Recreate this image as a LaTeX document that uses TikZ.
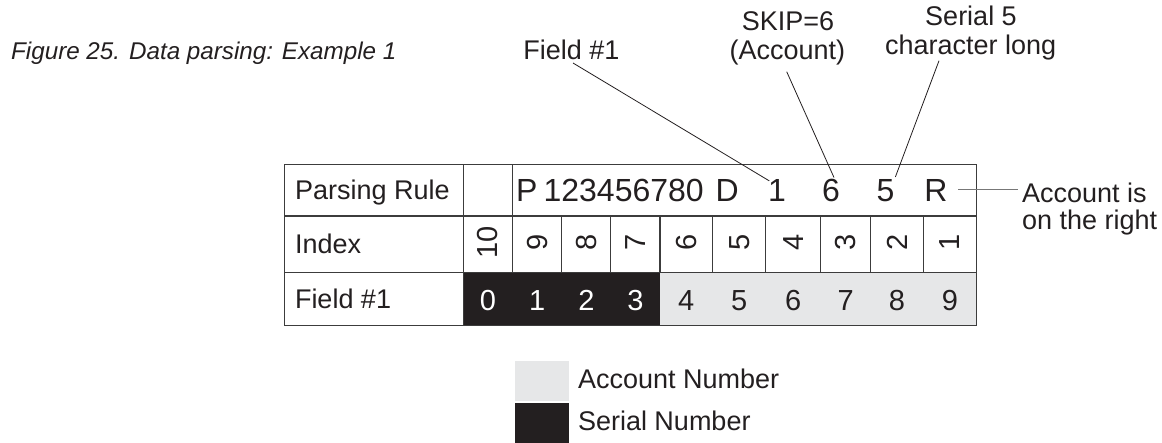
\documentclass[tikz,border=0pt]{standalone}
\usepackage{fontspec}
\setmainfont{Liberation Sans}
\usetikzlibrary{calc}
\definecolor{ink}{HTML}{231F20}
\definecolor{lgray}{HTML}{E6E7E8}
\definecolor{rulec}{HTML}{3C3C3C}
\definecolor{leadgray}{HTML}{777777}
\begin{document}
\begin{tikzpicture}[x=1pt,y=-1pt,
  txt/.style={inner sep=0pt, outer sep=0pt, text=ink, font=\fontsize{27}{30}\selectfont},
  bigtxt/.style={inner sep=0pt, outer sep=0pt, text=ink, font=\fontsize{32}{36}\selectfont},
  digtxt/.style={inner sep=0pt, outer sep=0pt, font=\fontsize{29}{32}\selectfont},
  tline/.style={draw=rulec, line width=1.1pt},
  leader/.style={draw=ink, line width=0.8pt},
  legbox/.style={draw=none, inner sep=0pt, outer sep=0pt, minimum width=54.3pt, anchor=north west},
]
\useasboundingbox (0,0) rectangle (1162,443);

% title
\node[anchor=base west, inner sep=0pt, text=ink, font=\fontsize{24.2}{28}\selectfont\itshape] (title) at (11,59.3) {Figure 25. Data parsing: Example 1};

% table fills
\fill[ink] (463.3,272.7) rectangle (660,325.7);
\fill[lgray] (660,272.7) rectangle (976.7,325.7);

% table lines
\foreach \yy in {164.3,216,272.7,325.7} \draw[tline] (284.3,\yy) -- (976.7,\yy);
\draw[tline] (284.3,164.3) -- (284.3,325.7);
\draw[tline] (976.7,164.3) -- (976.7,325.7);
\draw[tline] (463.3,164.3) -- (463.3,325.7);
\draw[tline] (512.7,164.3) -- (512.7,272.7);
\foreach \xx in {561.9,610.8,660,712.6,765.8,820.5,870.7,923.3} \draw[tline] (\xx,216) -- (\xx,272.7);

% row labels
\node[txt, anchor=base west] (lpr) at (295,199.5) {Parsing Rule};
\node[txt, anchor=base west] (lidx) at (295,253.3) {Index};
\node[txt, anchor=base west] (lfld) at (295,309) {Field \#1};

% parsing rule row
\node[bigtxt, anchor=base west] (rP) at (516,201.7) {P};
\node[bigtxt, anchor=base west] (rnum) at (543.6,201.7) {123456780};
\node[bigtxt, anchor=base west] (rD) at (715.5,201.7) {D};
\node[bigtxt, anchor=base] (r1) at (777,201.7) {1};
\node[bigtxt, anchor=base] (r6) at (831,201.7) {6};
\node[bigtxt, anchor=base] (r5) at (885.5,201.7) {5};
\node[bigtxt, anchor=base] (rR) at (936,201.7) {R};

% index row (rotated digits)
\foreach \cx/\lab/\nm in {488/10/i10,537.3/9/i9,586.4/8/i8,635.4/7/i7,686.3/6/i6,739.2/5/i5,793.2/4/i4,845.6/3/i3,897/2/i2,950/1/i1}
  \node[digtxt, text=ink, rotate=90] (\nm) at (\cx,242) {\lab};

% field row
\foreach \cx/\lab/\nm in {488/0/f0,537.3/1/f1,586.4/2/f2,635.4/3/f3}
  \node[digtxt, text=white, anchor=base] (\nm) at (\cx,310.7) {\lab};
\foreach \cx/\lab/\nm in {686.3/4/f4,739.2/5/f5,793.2/6/f6,845.6/7/f7,897/8/f8,950/9/f9}
  \node[digtxt, text=ink, anchor=base] (\nm) at (\cx,310.7) {\lab};

% top labels
\node[txt, anchor=base] (tfld) at (571.5,60) {Field \#1};
\node[txt, anchor=base] (tskip) at (788,30.7) {SKIP=6};
\node[txt, anchor=base] (tacc) at (787.3,60) {(Account)};
\node[txt, anchor=base] (tser) at (971,26) {Serial 5};
\node[txt, anchor=base] (tchr) at (970.6,54.3) {character long};

% right label
\node[txt, anchor=base west] (racc1) at (1022,202.7) {Account is};
\node[txt, anchor=base west] (racc2) at (1022,229.3) {on the right};

% leaders
\draw[leader] ($(tfld.base)+(1.5,3)$) -- ($(r1.north west)+(1.2,1.2)$);
\draw[leader] ($(tacc.base)+(-0.6,11.7)$) -- ($(r6.north)+(3,-1.8)$);
\draw[leader] ($(tchr.base)+(-31.6,6.4)$) -- ($(r5.north east)+(1,-2.8)$);
\draw[draw=leadgray, line width=1pt] ($(rR.base)+(22.3,-12.4)$) -- ($(racc1.base west)+(-3.7,-13.4)$);

% legend
\node[legbox, fill=lgray, minimum height=40.3pt] (lgA) at (515,360.7) {};
\node[legbox, fill=ink, minimum height=39.4pt] (lgS) at (515,403.3) {};
\node[txt, anchor=base west] (lgAt) at (578,389) {Account Number};
\node[txt, anchor=base west] (lgSt) at (578,430) {Serial Number};
\end{tikzpicture}
\end{document}
